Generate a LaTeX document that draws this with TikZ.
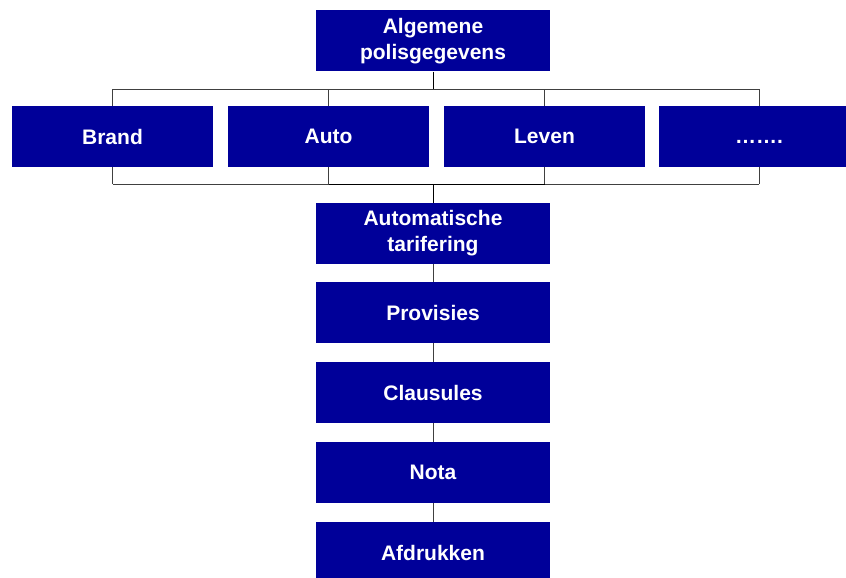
\documentclass[tikz,border=0pt]{standalone}
\usepackage{fontspec}
\setmainfont{Liberation Sans}
\usetikzlibrary{backgrounds}
\definecolor{boxblue}{RGB}{0,0,153}
\begin{document}
\begin{tikzpicture}[x=1pt,y=-1pt,
  boxstyle/.style={fill=boxblue,text=white,inner sep=0pt,align=center,
    minimum height=61pt,font=\bfseries\fontsize{21}{26}\selectfont},
  wide/.style={boxstyle,minimum width=234pt},
  narrow/.style={boxstyle,minimum width=201pt},
  conn/.style={draw=black,line width=0.9pt},
  thin/.style={draw=black!75,line width=0.8pt}]
\useasboundingbox (0,0) rectangle (846,578);
\node[wide] (top) at (433,41) {Algemene\\polisgegevens};
\node[narrow] (brand) at (112.5,136.5) {Brand};
\node[narrow] (auto) at (328.5,136.5) {Auto};
\node[narrow] (leven) at (544.5,136.5) {Leven};
\node[narrow] (more) at (759,136.5) {\vphantom{Leven}…….};
\node[wide] (tarif) at (433,233.5) {Automatische\\tarifering};
\node[wide] (prov) at (433,312.5) {Provisies};
\node[wide] (claus) at (433,392.5) {Clausules};
\node[wide] (nota) at (433,472.5) {Nota};
\node[wide] (afdr) at (433,552.5) {Afdrukken};
\coordinate (bt) at (433,89);
\coordinate (bb) at (433,184);
\begin{scope}[on background layer]
  \fill[white] (0,0) rectangle (846,578);
  \draw[conn] (top.south) -- (bt);
  \draw[conn] (bb) -- (tarif.north);
  \draw[thin] (brand.center |- bt) -- (more.center |- bt);
  \draw[thin] (brand.center |- bb) -- (more.center |- bb);
  \draw[conn] (auto.center |- bb) -- (leven.center |- bb);
  \foreach \n in {brand,auto,leven,more}
    \draw[thin] (\n.center |- bt) -- (\n.center |- bb);
\end{scope}
\draw[thin] (tarif) -- (prov);
\draw[thin] (prov) -- (claus);
\draw[thin] (claus) -- (nota);
\draw[thin] (nota) -- (afdr);
\end{tikzpicture}
\end{document}
